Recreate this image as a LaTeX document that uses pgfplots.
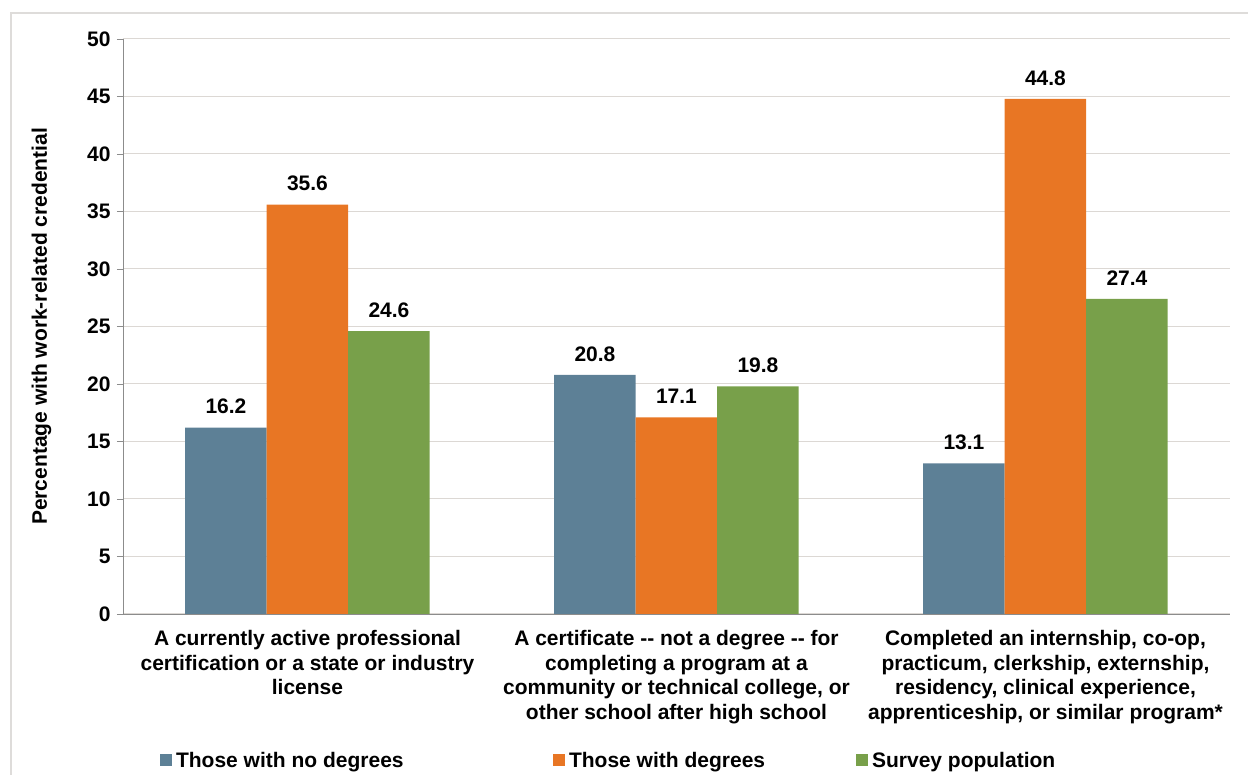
\documentclass[border=0pt]{standalone}
\usepackage{pgfplots}
\pgfplotsset{compat=1.18}
\usepackage{fontspec}
\setmainfont{Liberation Sans}
\definecolor{cblue}{RGB}{93,128,150}
\definecolor{corange}{RGB}{232,118,36}
\definecolor{cgreen}{RGB}{120,160,74}
\definecolor{cgrid}{RGB}{220,216,212}
\definecolor{caxis}{RGB}{140,140,140}
\definecolor{cframe}{RGB}{222,220,218}
\newcommand{\ff}{\fontsize{21}{24.5}\selectfont\bfseries}
\begin{document}
\begin{tikzpicture}
\path[use as bounding box] (-123pt,-161pt) rectangle (1125pt,614pt);
\draw[cframe, line width=1.2pt] (-112pt,-170pt) -- (-112pt,601pt) -- (1135pt,601pt);
\begin{axis}[
  at={(0pt,0pt)}, anchor=south west,
  scale only axis, width=1107pt, height=575pt,
  xmin=-0.5, xmax=2.5, ymin=0, ymax=50,
  ytick={0,5,...,50},
  ybar=0pt, bar width=81.5pt,
  axis x line*=bottom, axis y line*=left,
  axis line style={caxis, line width=0.8pt},
  ymajorgrids, grid style={cgrid, line width=1pt},
  tick align=outside,
  major tick length=6pt,
  tick style={caxis, line width=0.8pt},
  /pgf/number format/assume math mode=true,
  xtick={0,1,2},
  x tick style={draw=none},
  extra x ticks={-0.5,0.5,1.5,2.5},
  extra x tick labels={},
  extra x tick style={grid=none, tick style={caxis, line width=0.8pt, draw=caxis}, major tick length=6pt},
  xticklabels={{A currently active professional\\certification or a state or industry\\license},
               {A certificate -{}- not a degree -{}- for\\completing a program at a\\community or technical college, or\\other school after high school},
               {Completed an internship, co-op,\\practicum, clerkship, externship,\\residency, clinical experience,\\apprenticeship, or similar program*}},
  x tick label style={align=center, font=\ff, yshift=-7pt},
  y tick label style={font=\ff, xshift=-3pt},
  ylabel={Percentage with work-related credential},
  every axis y label/.style={at={(axis description cs:-0.0687,0.5)}, rotate=90, anchor=base, font=\ff},
  nodes near coords,
  nodes near coords style={font=\ff, black, yshift=10pt},
  point meta=explicit symbolic,
  legend columns=3,
  legend style={draw=none, at={(axis description cs:0.0335,-0.2545)}, anchor=west,
    /tikz/every even column/.append style={column sep=0pt}, font=\ff,
    inner sep=0pt, outer sep=0pt, nodes={inner sep=0pt}},
  legend image code/.code={\fill[#1] (0pt,-6pt) rectangle (12pt,6pt);},
]
\addplot[fill=cblue, draw=none] coordinates {(0,16.2)[16.2] (1,20.8)[20.8] (2,13.1)[13.1]};
\addplot[fill=corange, draw=none] coordinates {(0,35.6)[35.6] (1,17.1)[17.1] (2,44.8)[44.8]};
\addplot[fill=cgreen, draw=none] coordinates {(0,24.6)[24.6] (1,19.8)[19.8] (2,27.4)[27.4]};
\legend{\hspace{4pt}\makebox[377pt][l]{Those with no degrees},\hspace{4pt}\makebox[287pt][l]{Those with degrees},\hspace{4pt}Survey population}
\end{axis}
\end{tikzpicture}
\end{document}
